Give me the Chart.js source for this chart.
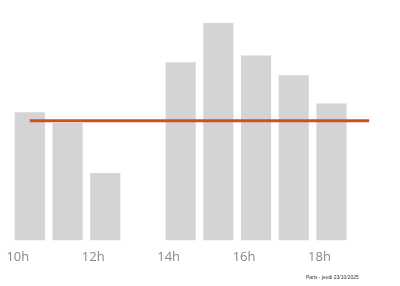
<!DOCTYPE html>
<html><head><meta charset="utf-8">
<script src="https://cdn.jsdelivr.net/npm/chart.js@4"></script>
<style>
html,body{margin:0;padding:0;background:#fff;}
#wrap{position:relative;width:400px;height:286px;}
#note{position:absolute;left:306px;top:274px;font-family:"Liberation Sans",Arial,sans-serif;font-size:5px;color:#333;white-space:nowrap;}
</style></head>
<body>
<div id="wrap"><canvas id="c" width="400" height="286"></canvas><div id="note">Paris - jeudi 23/10/2025</div></div>
<script>
const hours = ["10h","11h","12h","13h","14h","15h","16h","17h","18h","19h"];
const popularity = [59, 54, 31, 0, 82, 100, 85, 76, 63, 0];
const average = [55, 55, 55, 55, 55, 55, 55, 55, 55, 55];
const shownLabels = ["10h","12h","14h","16h","18h"];

new Chart(document.getElementById('c'), {
  type: 'bar',
  data: {
    labels: hours,
    datasets: [
      {type:'line', data: average, borderColor:'#c8531f', borderWidth:3, pointRadius:0, fill:false, order:0},
      {type:'bar', data: popularity, backgroundColor:'#d4d4d4', categoryPercentage:0.8, barPercentage:1, order:1}
    ]
  },
  options: {
    responsive:false, animation:false,
    layout:{padding:{left:11,right:12,top:23,bottom:12}},
    plugins:{legend:{display:false}, tooltip:{enabled:false}},
    scales:{
      x:{grid:{display:false, drawTicks:false}, border:{display:false},
         ticks:{autoSkip:false, maxRotation:0, padding:9, labelOffset:-12, color:'#888',
           font:{family:'"Open Sans"', size:13},
           callback:function(v,i){ const l=hours[i]; return shownLabels.includes(l)?l:''; }}},
      y:{display:false, min:0, max:100}
    }
  }
});
</script>
</body></html>
